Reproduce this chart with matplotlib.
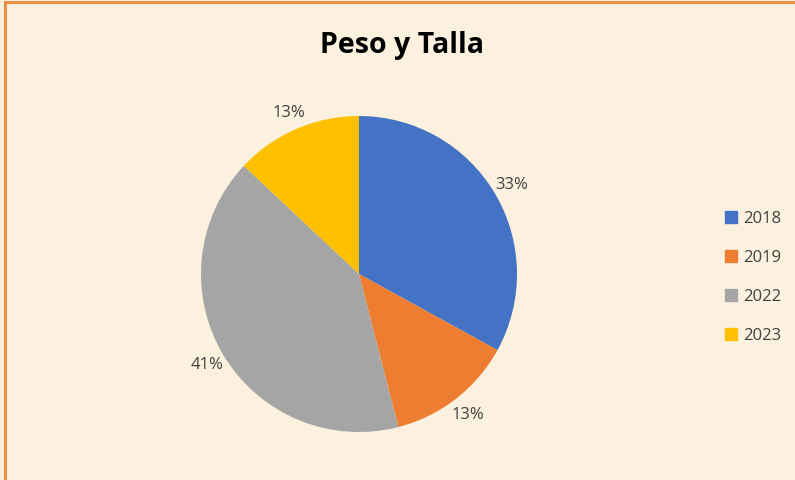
import matplotlib.pyplot as plt
from matplotlib.lines import Line2D
from matplotlib.patches import Rectangle

years = ["2018", "2019", "2022", "2023"]
shares = [33, 13, 41, 13]
colors = ["#4472C4", "#ED7D31", "#A5A5A5", "#FFC000"]

plt.rcParams["font.family"] = ["Open Sans", "DejaVu Sans"]

W, H = 795, 481
fig = plt.figure(figsize=(W / 100, H / 100), dpi=100)
fig.patch.set_facecolor("#FBF1DE")

# orange frame, only left and top edges visible
fig.add_artist(Rectangle((5 / W, -0.1), 1.2, 1.1 - 3 / H, transform=fig.transFigure,
                         fill=False, edgecolor="#E8914A", linewidth=2.2))

cx, cy, r = 359, 275, 158
ax = fig.add_axes([(cx - r) / W, (H - cy - r) / H, 2 * r / W, 2 * r / H])
ax.set_facecolor("none")
wedges, texts, autotexts = ax.pie(
    shares, colors=colors, startangle=90, counterclock=False,
    autopct="%1.0f%%", pctdistance=1.12, radius=1,
    wedgeprops={"linewidth": 0},
    textprops={"fontsize": 12, "color": "#404040"},
)
ax.set_xlim(-1, 1)
ax.set_ylim(-1, 1)
ax.set_aspect("equal")

fig.text(402 / W, 1 - 46 / H, "Peso y Talla", ha="center", va="center",
         fontsize=20.5, fontweight="bold", color="black")

handles = [Line2D([0], [0], marker="s", linestyle="", markersize=8,
                  markerfacecolor=c, markeredgecolor=c) for c in colors]
fig.legend(handles, years, loc="center left", bbox_to_anchor=(708 / W, 1 - 278 / H),
           frameon=False, fontsize=12, labelspacing=1.38, handletextpad=0.2,
           labelcolor="#404040", handlelength=1.0)

fig.savefig("out.png", dpi=100, facecolor=fig.get_facecolor())
